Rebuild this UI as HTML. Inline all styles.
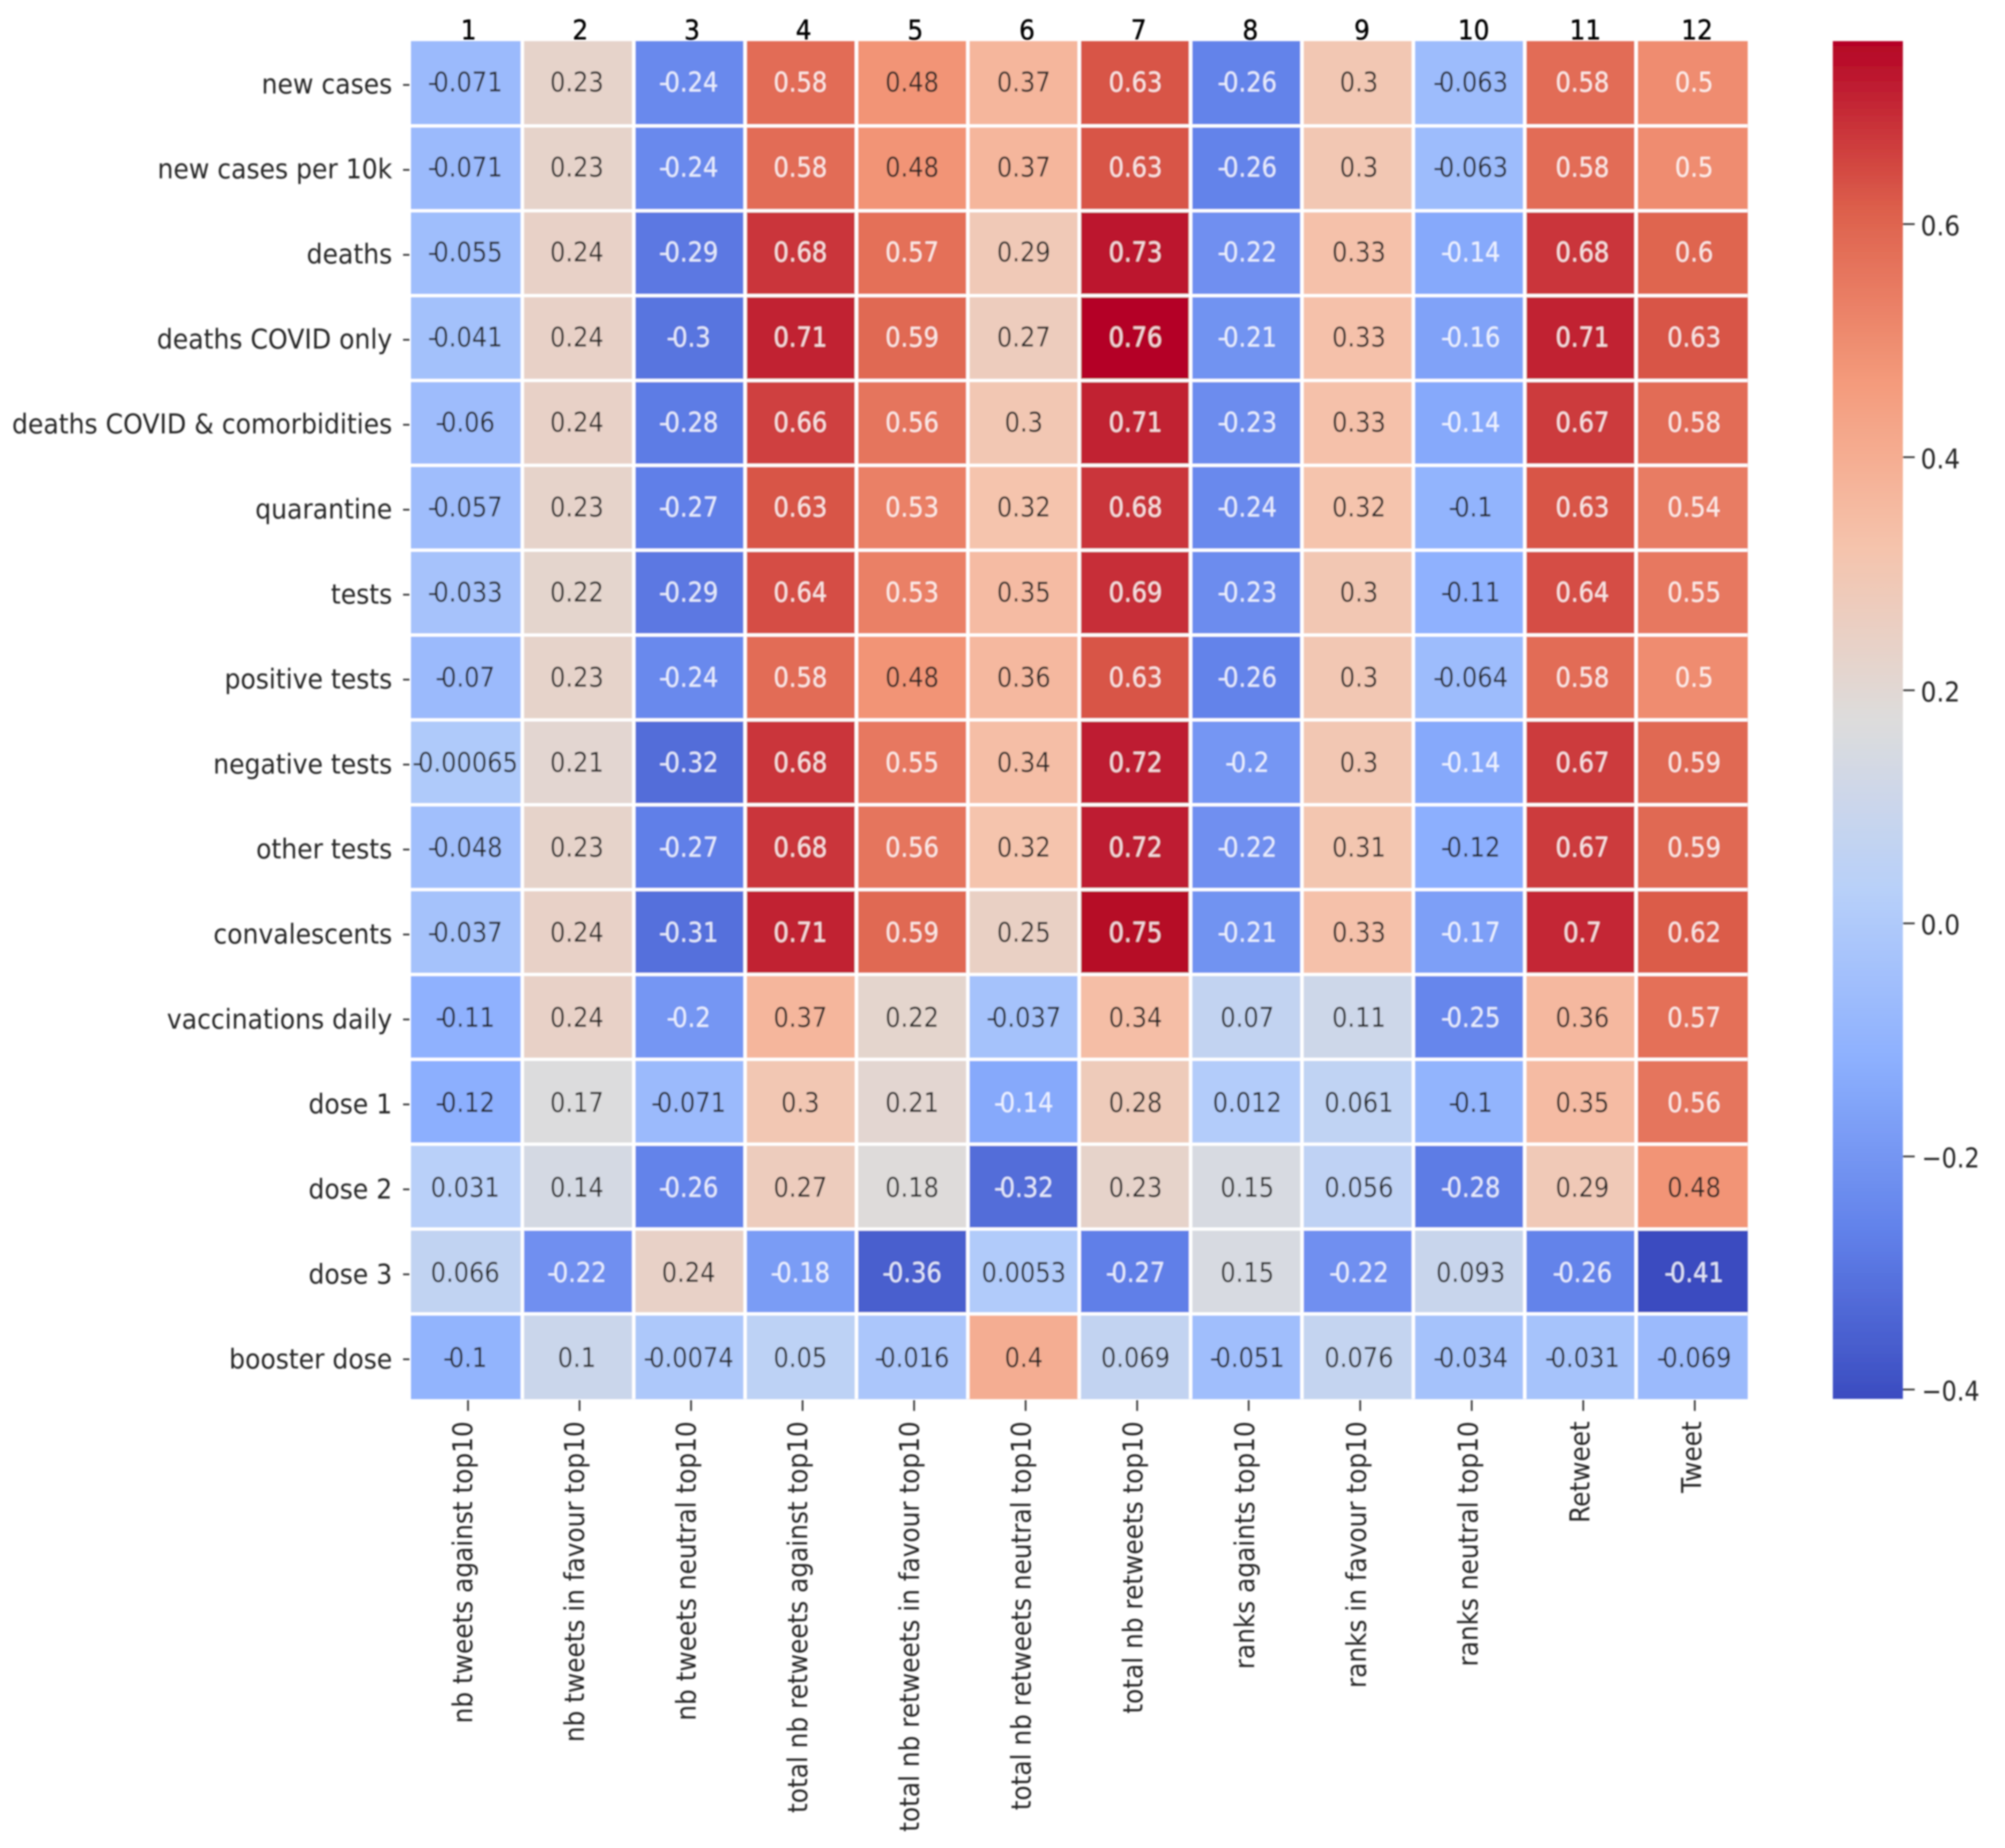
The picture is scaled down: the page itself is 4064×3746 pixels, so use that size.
<!DOCTYPE html>
<html lang="en">
<head>
<meta charset="utf-8">
<title>Correlation heatmap</title>
<style>
html,body{margin:0;padding:0;background:#fff;width:4064px;height:3746px;overflow:hidden}
svg{display:block}
text{font-family:"DejaVu Sans","Liberation Sans",sans-serif}
</style>
</head>
<body>
<svg id="chart" xmlns="http://www.w3.org/2000/svg" width="4064" height="3746" viewBox="0 0 4064 3746">
  <defs>
    <filter id="soft" x="-2%" y="-2%" width="104%" height="104%"><feGaussianBlur stdDeviation="1.6"/></filter>
    <linearGradient id="cbGradient" x1="0" y1="1" x2="0" y2="0"></linearGradient>
  </defs>
  <g id="root" filter="url(#soft)"></g>
</svg>
<script>
const rowLabels = ["new cases","new cases per 10k","deaths","deaths COVID only","deaths COVID & comorbidities","quarantine","tests","positive tests","negative tests","other tests","convalescents","vaccinations daily","dose 1","dose 2","dose 3","booster dose"];
const colLabels = ["nb tweets against top10","nb tweets in favour top10","nb tweets neutral top10","total nb retweets against top10","total nb retweets in favour top10","total nb retweets neutral top10","total nb retweets top10","ranks againts top10","ranks in favour top10","ranks neutral top10","Retweet","Tweet"];
const colNumbers = ["1","2","3","4","5","6","7","8","9","10","11","12"];
const rowNewCases = [-0.071,0.23,-0.24,0.58,0.48,0.37,0.63,-0.26,0.3,-0.063,0.58,0.5];
const rowNewCasesPer10k = [-0.071,0.23,-0.24,0.58,0.48,0.37,0.63,-0.26,0.3,-0.063,0.58,0.5];
const rowDeaths = [-0.055,0.24,-0.29,0.68,0.57,0.29,0.73,-0.22,0.33,-0.14,0.68,0.6];
const rowDeathsCovid = [-0.041,0.24,-0.3,0.71,0.59,0.27,0.76,-0.21,0.33,-0.16,0.71,0.63];
const rowDeathsComorb = [-0.06,0.24,-0.28,0.66,0.56,0.3,0.71,-0.23,0.33,-0.14,0.67,0.58];
const rowQuarantine = [-0.057,0.23,-0.27,0.63,0.53,0.32,0.68,-0.24,0.32,-0.1,0.63,0.54];
const rowTests = [-0.033,0.22,-0.29,0.64,0.53,0.35,0.69,-0.23,0.3,-0.11,0.64,0.55];
const rowPositive = [-0.07,0.23,-0.24,0.58,0.48,0.36,0.63,-0.26,0.3,-0.064,0.58,0.5];
const rowNegative = [-0.00065,0.21,-0.32,0.68,0.55,0.34,0.72,-0.2,0.3,-0.14,0.67,0.59];
const rowOther = [-0.048,0.23,-0.27,0.68,0.56,0.32,0.72,-0.22,0.31,-0.12,0.67,0.59];
const rowConvalescents = [-0.037,0.24,-0.31,0.71,0.59,0.25,0.75,-0.21,0.33,-0.17,0.7,0.62];
const rowVaccinations = [-0.11,0.24,-0.2,0.37,0.22,-0.037,0.34,0.07,0.11,-0.25,0.36,0.57];
const rowDose1 = [-0.12,0.17,-0.071,0.3,0.21,-0.14,0.28,0.012,0.061,-0.1,0.35,0.56];
const rowDose2 = [0.031,0.14,-0.26,0.27,0.18,-0.32,0.23,0.15,0.056,-0.28,0.29,0.48];
const rowDose3 = [0.066,-0.22,0.24,-0.18,-0.36,0.0053,-0.27,0.15,-0.22,0.093,-0.26,-0.41];
const rowBooster = [-0.1,0.1,-0.0074,0.05,-0.016,0.4,0.069,-0.051,0.076,-0.034,-0.031,-0.069];
const matrix = [rowNewCases,rowNewCasesPer10k,rowDeaths,rowDeathsCovid,rowDeathsComorb,rowQuarantine,rowTests,rowPositive,rowNegative,rowOther,rowConvalescents,rowVaccinations,rowDose1,rowDose2,rowDose3,rowBooster];
const colorbarTicks = [-0.4,-0.2,0,0.2,0.4,0.6];
const colorDomain = [-0.408,0.757];

const coolwarm = [[59,76,192],[98,130,234],[141,176,254],[184,208,249],[221,220,220],[245,196,173],[244,154,123],[221,96,76],[180,4,38]];

const NS = "http://www.w3.org/2000/svg";
const root = document.getElementById("root");
const plot = {left:833, right:3542, top:83.4, bottom:2835.6};
const bar = {left:3715, right:3857};
const bandW = (plot.right - plot.left) / colLabels.length;
const bandH = (plot.bottom - plot.top) / rowLabels.length;
const xAt = i => plot.left + i * bandW;
const yAt = i => plot.top + i * bandH;
const cbY = v => plot.bottom - (v - colorDomain[0]) / (colorDomain[1] - colorDomain[0]) * (plot.bottom - plot.top);

function rgbAt(v){
  const t = Math.max(0, Math.min(1, (v - colorDomain[0]) / (colorDomain[1] - colorDomain[0])));
  const p = t * (coolwarm.length - 1);
  const k = Math.min(coolwarm.length - 2, Math.floor(p));
  const f = p - k;
  return coolwarm[k].map((c, j) => c + (coolwarm[k + 1][j] - c) * f);
}
const css = c => "rgb(" + c.map(Math.round).join(",") + ")";
function luminance(c){
  const l = c.map(x => { x /= 255; return x <= 0.03928 ? x / 12.92 : Math.pow((x + 0.055) / 1.055, 2.4); });
  return 0.2126 * l[0] + 0.7152 * l[1] + 0.0722 * l[2];
}
function make(tag, attrs, parent){
  const el = document.createElementNS(NS, tag);
  for (const k in attrs) el.setAttribute(k, attrs[k]);
  (parent || root).appendChild(el);
  return el;
}
const fmt = v => String(Number(v.toPrecision(2)));

/* heatmap cells */
matrix.forEach((row, r) => {
  row.forEach((v, c) => {
    const rgb = rgbAt(v);
    const cell = make("rect", {x: xAt(c), y: yAt(r), width: bandW + 0.5, height: bandH + 0.5, fill: css(rgb)});
    
    
  });
});

/* white separators */
for (let c = 1; c < colLabels.length; c++){
  const line = make("rect", {x: xAt(c) - 3.5, y: plot.top, width: 7, height: plot.bottom - plot.top, fill: "#fff"});
  
  
}
for (let r = 1; r < rowLabels.length; r++){
  const line = make("rect", {x: plot.left, y: yAt(r) - 3.5, width: plot.right - plot.left, height: 6.5, fill: "#fff"});
  
  
}

/* annotations */
matrix.forEach((row, r) => {
  row.forEach((v, c) => {
    const label = fmt(v);
    const dark = luminance(rgbAt(v)) > 0.408;
    const cx = xAt(c) + bandW / 2 - 3 + c * 0.7;
    const cy = yAt(r) + bandH / 2 + 16 + r * 0.35;
    const t = make("text", {
      transform: "translate(" + cx + "," + cy + ") scale(.89,1)",
      "text-anchor": "middle", "font-size": 55,
      fill: dark ? "#262626" : "#fff", "fill-opacity": dark ? 1 : 0.85
    });
    if (v < 0) t.setAttribute("dx", "0 -7");
    t.textContent = label;
    
    
  });
});

/* y axis */
rowLabels.forEach((name, r) => {
  const cy = yAt(r) + bandH / 2;
  const tick = make("rect", {x: 817, y: cy + 1 + r * 0.2, width: 13, height: 3.5, fill: "#333"});
  
  
  const t = make("text", {
    transform: "translate(795," + (cy + 20 + r * 0.3) + ") scale(.925,1)",
    "text-anchor": "end", "font-size": 55, fill: "#262626"
  });
  t.textContent = name;
  
  
});

/* x axis */
colLabels.forEach((name, c) => {
  const cx = xAt(c) + bandW / 2;
  const tick = make("rect", {x: cx + 1 + c * 0.3, y: 2838, width: 3.5, height: 22, fill: "#333"});
  
  
  const t = make("text", {
    transform: "translate(" + (cx + 11 + c * 0.7) + ",2881) rotate(-90) scale(.915,1)",
    "text-anchor": "end", "font-size": 55, fill: "#262626"
  });
  t.textContent = name;
  
  
});

/* top numbers */
colNumbers.forEach((name, c) => {
  const t = make("text", {
    transform: "translate(" + (xAt(c) + bandW / 2 + 4 + c * 0.6) + ",80) scale(.915,1)",
    "text-anchor": "middle", "font-size": 55, fill: "#000", stroke: "#000", "stroke-width": 0.8
  });
  t.textContent = name;
  
  
});

/* colorbar */
const grad = document.getElementById("cbGradient");
for (let i = 0; i <= 32; i++){
  const v = colorDomain[0] + (colorDomain[1] - colorDomain[0]) * i / 32;
  const s = document.createElementNS(NS, "stop");
  s.setAttribute("offset", (i / 32).toFixed(4));
  s.setAttribute("stop-color", css(rgbAt(v)));
  grad.appendChild(s);
}
const cb = make("rect", {x: bar.left, y: plot.top, width: bar.right - bar.left, height: plot.bottom - plot.top, fill: "url(#cbGradient)"});


colorbarTicks.forEach(v => {
  const y = cbY(v);
  const tick = make("rect", {x: bar.right, y: y - 1.8, width: 24, height: 3.5, fill: "#333"});
  
  
  const t = make("text", {
    transform: "translate(" + (v < 0 ? 3895 : 3893) + "," + (y + 22.5) + ") scale(" + (v < 0 ? 0.88 : 0.915) + ",1)",
    "font-size": 55, fill: "#262626"
  });
  t.textContent = (v < 0 ? "\u2212" : "") + Math.abs(v).toFixed(1);
  
  
});
</script>
</body>
</html>
